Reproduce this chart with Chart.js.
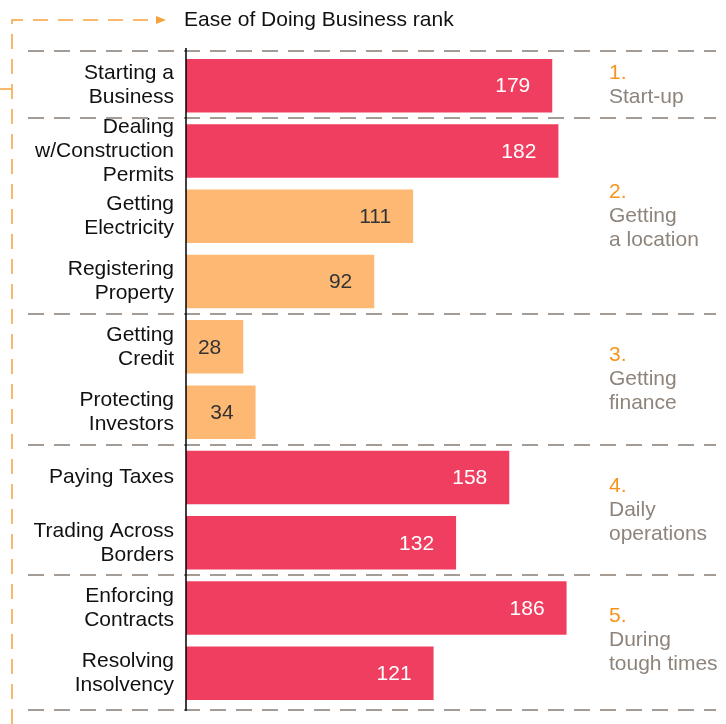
<!DOCTYPE html>
<html>
<head>
<meta charset="utf-8">
<script src="https://cdn.jsdelivr.net/npm/chart.js@4"></script>
<style>
  html, body { margin: 0; padding: 0; background: #fff; }
  #wrap { width: 726px; height: 724px; }
</style>
</head>
<body>
<div id="wrap"><canvas id="chart"></canvas></div>
<script>
// Data
const categories = [
  ['Starting a', 'Business'],
  ['Dealing', 'w/Construction', 'Permits'],
  ['Getting', 'Electricity'],
  ['Registering', 'Property'],
  ['Getting', 'Credit'],
  ['Protecting', 'Investors'],
  ['Paying Taxes'],
  ['Trading Across', 'Borders'],
  ['Enforcing', 'Contracts'],
  ['Resolving', 'Insolvency']
];
const ranks = [179, 182, 111, 92, 28, 34, 158, 132, 186, 121];
const highlighted = [false, false, true, true, true, true, false, false, false, false];
const groupNumbers = ['1.', '2.', '3.', '4.', '5.'];
const groupNames = [['Start-up'], ['Getting', 'a location'], ['Getting', 'finance'], ['Daily', 'operations'], ['During', 'tough times']];
const groupFirst = [0, 1, 4, 6, 8];
const groupLast = [0, 3, 5, 7, 9];
const titleText = 'Ease of Doing Business rank';

const RED = '#F03E60';
const ORANGE = '#FDB973';
const FONT = '"Liberation Sans", Arial, Helvetica, sans-serif';

// separators, axis line, title, arrow and group labels
const decorations = {
  id: 'decorations',
  beforeDatasetsDraw(chart) {
    const ctx = chart.ctx;
    const y = chart.scales.y;
    const step = y.getPixelForValue(1) - y.getPixelForValue(0);

    ctx.save();
    ctx.strokeStyle = '#A59D95';
    ctx.lineWidth = 2;
    ctx.setLineDash([16, 10]);
    const lines = [y.getPixelForValue(0) - step / 2 - 2];
    groupLast.forEach(function(last, i) {
      if (i < groupLast.length - 1) lines.push(y.getPixelForValue(last) + step / 2);
    });
    lines.push(y.getPixelForValue(categories.length - 1) + step / 2 + 4);
    lines.forEach(function(py) {
      ctx.beginPath();
      ctx.moveTo(28, Math.round(py));
      ctx.lineTo(716, Math.round(py));
      ctx.stroke();
    });
    ctx.restore();
  },
  afterDatasetsDraw(chart) {
    const ctx = chart.ctx;
    const y = chart.scales.y;
    const x = chart.scales.x;
    const area = chart.chartArea;
    const step = y.getPixelForValue(1) - y.getPixelForValue(0);

    // axis line
    ctx.save();
    ctx.strokeStyle = '#000';
    ctx.lineWidth = 1.5;
    ctx.beginPath();
    ctx.moveTo(area.left, y.getPixelForValue(0) - step / 2 - 5);
    ctx.lineTo(area.left, y.getPixelForValue(categories.length - 1) + step / 2 + 5);
    ctx.stroke();

    // value labels
    ctx.font = '21px ' + FONT;
    ctx.textAlign = 'right';
    ctx.textBaseline = 'middle';
    ranks.forEach(function(v, i) {
      ctx.fillStyle = highlighted[i] ? '#333' : '#fff';
      ctx.fillText(String(v), x.getPixelForValue(v) - 22, y.getPixelForValue(i) + 1);
    });

    // title
    ctx.fillStyle = '#111';
    ctx.textAlign = 'left';
    ctx.textBaseline = 'middle';
    ctx.fillText(titleText, 184, 20);

    // orange dashed arrow
    ctx.strokeStyle = '#F7A33C';
    ctx.fillStyle = '#F7A33C';
    ctx.lineWidth = 1.5;
    ctx.setLineDash([15, 10]);
    ctx.beginPath();
    ctx.moveTo(12, 724);
    ctx.lineTo(12, 20);
    ctx.lineTo(158, 20);
    ctx.stroke();
    ctx.setLineDash([]);
    ctx.beginPath();
    ctx.moveTo(156, 16);
    ctx.lineTo(166, 20);
    ctx.lineTo(156, 24);
    ctx.closePath();
    ctx.fill();
    ctx.beginPath();
    ctx.moveTo(0, 89);
    ctx.lineTo(12, 89);
    ctx.stroke();

    // group labels
    const lh = 24;
    groupNumbers.forEach(function(num, g) {
      const lines = [num].concat(groupNames[g]);
      const center = (y.getPixelForValue(groupFirst[g]) + y.getPixelForValue(groupLast[g])) / 2;
      const top = center - (lines.length - 1) * lh / 2;
      lines.forEach(function(t, k) {
        ctx.fillStyle = k === 0 ? '#F7941D' : '#8E847B';
        ctx.fillText(t, 609, top + k * lh);
      });
    });
    ctx.restore();
  }
};

new Chart(document.getElementById('chart'), {
  type: 'bar',
  data: {
    labels: categories,
    datasets: [{
      data: ranks,
      backgroundColor: highlighted.map(function(h) { return h ? ORANGE : RED; }),
      borderWidth: 0,
      categoryPercentage: 1,
      barPercentage: 0.82
    }]
  },
  options: {
    indexAxis: 'y',
    responsive: true,
    maintainAspectRatio: false,
    animation: false,
    layout: { padding: { top: 53, bottom: 18, left: 0, right: 8 } },
    plugins: {
      legend: { display: false },
      tooltip: { enabled: false }
    },
    scales: {
      x: { display: false, min: 0, max: 260 },
      y: {
        grid: { display: false, drawTicks: false },
        border: { display: false },
        afterFit: function(scale) {
          scale.width = 186;
          scale.paddingTop = 0;
          scale.paddingBottom = 0;
        },
        ticks: {
          autoSkip: false,
          color: '#111',
          padding: 12,
          font: { family: FONT, size: 21, lineHeight: 1.14 }
        }
      }
    }
  },
  plugins: [decorations]
});
</script>
</body>
</html>
